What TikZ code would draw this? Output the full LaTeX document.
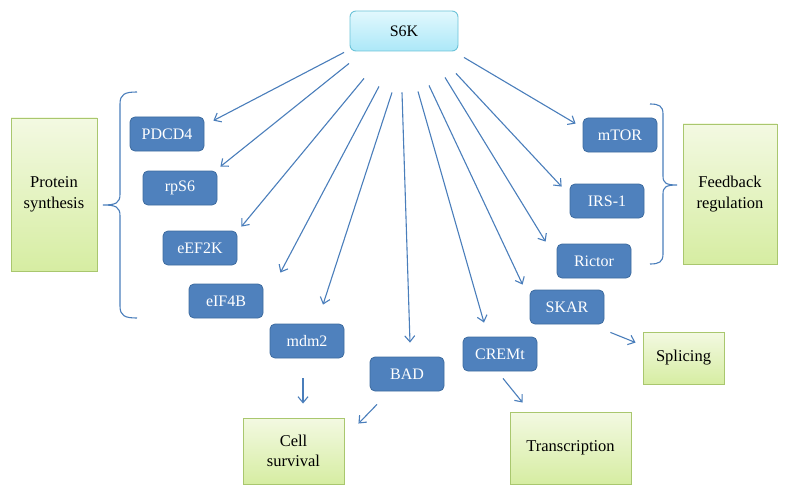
\documentclass[tikz,border=0pt]{standalone}
\usepackage{fontspec}
\setmainfont{Liberation Serif}
\usetikzlibrary{calc,arrows.meta}
\definecolor{boxblue}{HTML}{4F81BD}
\definecolor{boxedge}{HTML}{3D6B9F}
\definecolor{arrowblue}{HTML}{4A7EBB}
\definecolor{greenedge}{HTML}{A9C76E}
\definecolor{greentop}{HTML}{F3F9E2}
\definecolor{greenbot}{HTML}{D6EDA2}
\definecolor{cyantop}{HTML}{E2F8FD}
\definecolor{cyanbot}{HTML}{ACE8F8}
\definecolor{cyanedge}{HTML}{6CC3D8}
\tikzset{
  protein/.style={draw=boxedge, line width=0.8pt, fill=boxblue, rounded corners=5pt,
    minimum width=74pt, minimum height=34pt, inner sep=0pt, text=white,
    font=\fontsize{16}{19}\selectfont},
  effect/.style={draw=greenedge, line width=0.9pt, top color=greentop, bottom color=greenbot,
    inner sep=0pt, align=center, font=\fontsize{16.5}{20.5}\selectfont},
  kinase/.style={draw=cyanedge, line width=0.9pt, top color=cyantop, bottom color=cyanbot,
    rounded corners=6pt, minimum width=108pt, minimum height=40pt, inner sep=0pt,
    font=\fontsize{16}{19}\selectfont},
  arr/.style={draw=arrowblue, line width=1.1pt, -{Straight Barb[length=6pt,width=10pt]}},
  bracepath/.style={draw=arrowblue, line width=1.1pt}
}
\begin{document}
\begin{tikzpicture}[x=1pt,y=-1pt]
\useasboundingbox (0,0) rectangle (788,495);
% central kinase
\node[kinase] (s6k) at (404,31) {S6K};
% substrates
\node[protein] (pdcd4) at (167,134) {PDCD4};
\node[protein] (rps6) at (180,188) {rpS6};
\node[protein] (eef2k) at (200,248) {eEF2K};
\node[protein] (eif4b) at (226,301) {eIF4B};
\node[protein] (mdm2) at (307,341) {mdm2};
\node[protein] (bad) at (407,374) {BAD};
\node[protein] (cremt) at (500,354) {CREMt};
\node[protein] (skar) at (567,307) {SKAR};
\node[protein] (rictor) at (594,261) {Rictor};
\node[protein] (irs1) at (607,201) {IRS-1};
\node[protein] (mtor) at (620,135) {mTOR};
% effects
\node[effect, minimum width=86pt, minimum height=153pt] (psyn) at (54,194.5) {Protein\\synthesis};
\node[effect, minimum width=94pt, minimum height=140pt] (feed) at (730,194) {Feedback\\regulation};
\node[effect, minimum width=101pt, minimum height=66pt] (cell) at (293.5,451) {Cell\\survival};
\node[effect, minimum width=121pt, minimum height=72pt] (trans) at (570.5,448) {Transcription};
\node[effect, minimum width=81pt, minimum height=52pt] (splice) at (683.5,358) {Splicing};
% arrows from S6K
\draw[arr] ($(s6k.south)+(-60,1)$) -- ($(pdcd4.north east)+(9,4)$);
\draw[arr] ($(s6k.south)+(-55,12)$) -- ($(rps6.north east)+(3,-4)$);
\draw[arr] ($(s6k.south)+(-40,27)$) -- ($(eef2k.north east)+(4,-4)$);
\draw[arr] ($(s6k.south)+(-25,35)$) -- ($(eif4b.north east)+(17,-11)$);
\draw[arr] ($(s6k.south)+(-12,41)$) -- ($(mdm2.north)+(16,-19)$);
\draw[arr] ($(s6k.south)+(-2,41)$) -- ($(bad.north)+(3,-14)$);
\draw[arr] ($(s6k.south)+(14,40)$) -- ($(cremt.north)+(-16,-14)$);
\draw[arr] ($(s6k.south)+(25,34)$) -- ($(skar.north west)+(-7,-5)$);
\draw[arr] ($(s6k.south)+(41,26)$) -- ($(rictor.north west)+(-11,-2)$);
\draw[arr] ($(s6k.south)+(52,22)$) -- ($(irs1.north west)+(-8,3)$);
\draw[arr] ($(s6k.south)+(60,6)$) -- ($(mtor.north west)+(-7,6)$);
% arrows to outcomes
\draw[arr] ($(mdm2.south)+(-4,20)$) -- ($(cell.north)+(9.5,-14)$);
\draw[arr] ($(bad.south)+(-30,13)$) -- ($(cell.north east)+(14,6)$);
\draw[arr] ($(cremt.south)+(3,7)$) -- ($(trans.north west)+(13,-9)$);
\draw[arr] ($(skar.south east)+(6,8)$) -- ($(splice.north west)+(-7,11)$);
% braces
\draw[bracepath] (137,92) .. controls (125,92) and (120,94) .. (120,104) -- (120,194)
  .. controls (120,203) and (116,205) .. (103,205)
  .. controls (116,205) and (120,207) .. (120,216) -- (120,306)
  .. controls (120,316) and (125,318) .. (137,318);
\draw[bracepath] (650,104) .. controls (659,104) and (663,106) .. (663,114) -- (663,176)
  .. controls (663,183) and (666,185) .. (677,185)
  .. controls (666,185) and (663,187) .. (663,194) -- (663,254)
  .. controls (663,262) and (659,264) .. (650,264);
\end{tikzpicture}
\end{document}
